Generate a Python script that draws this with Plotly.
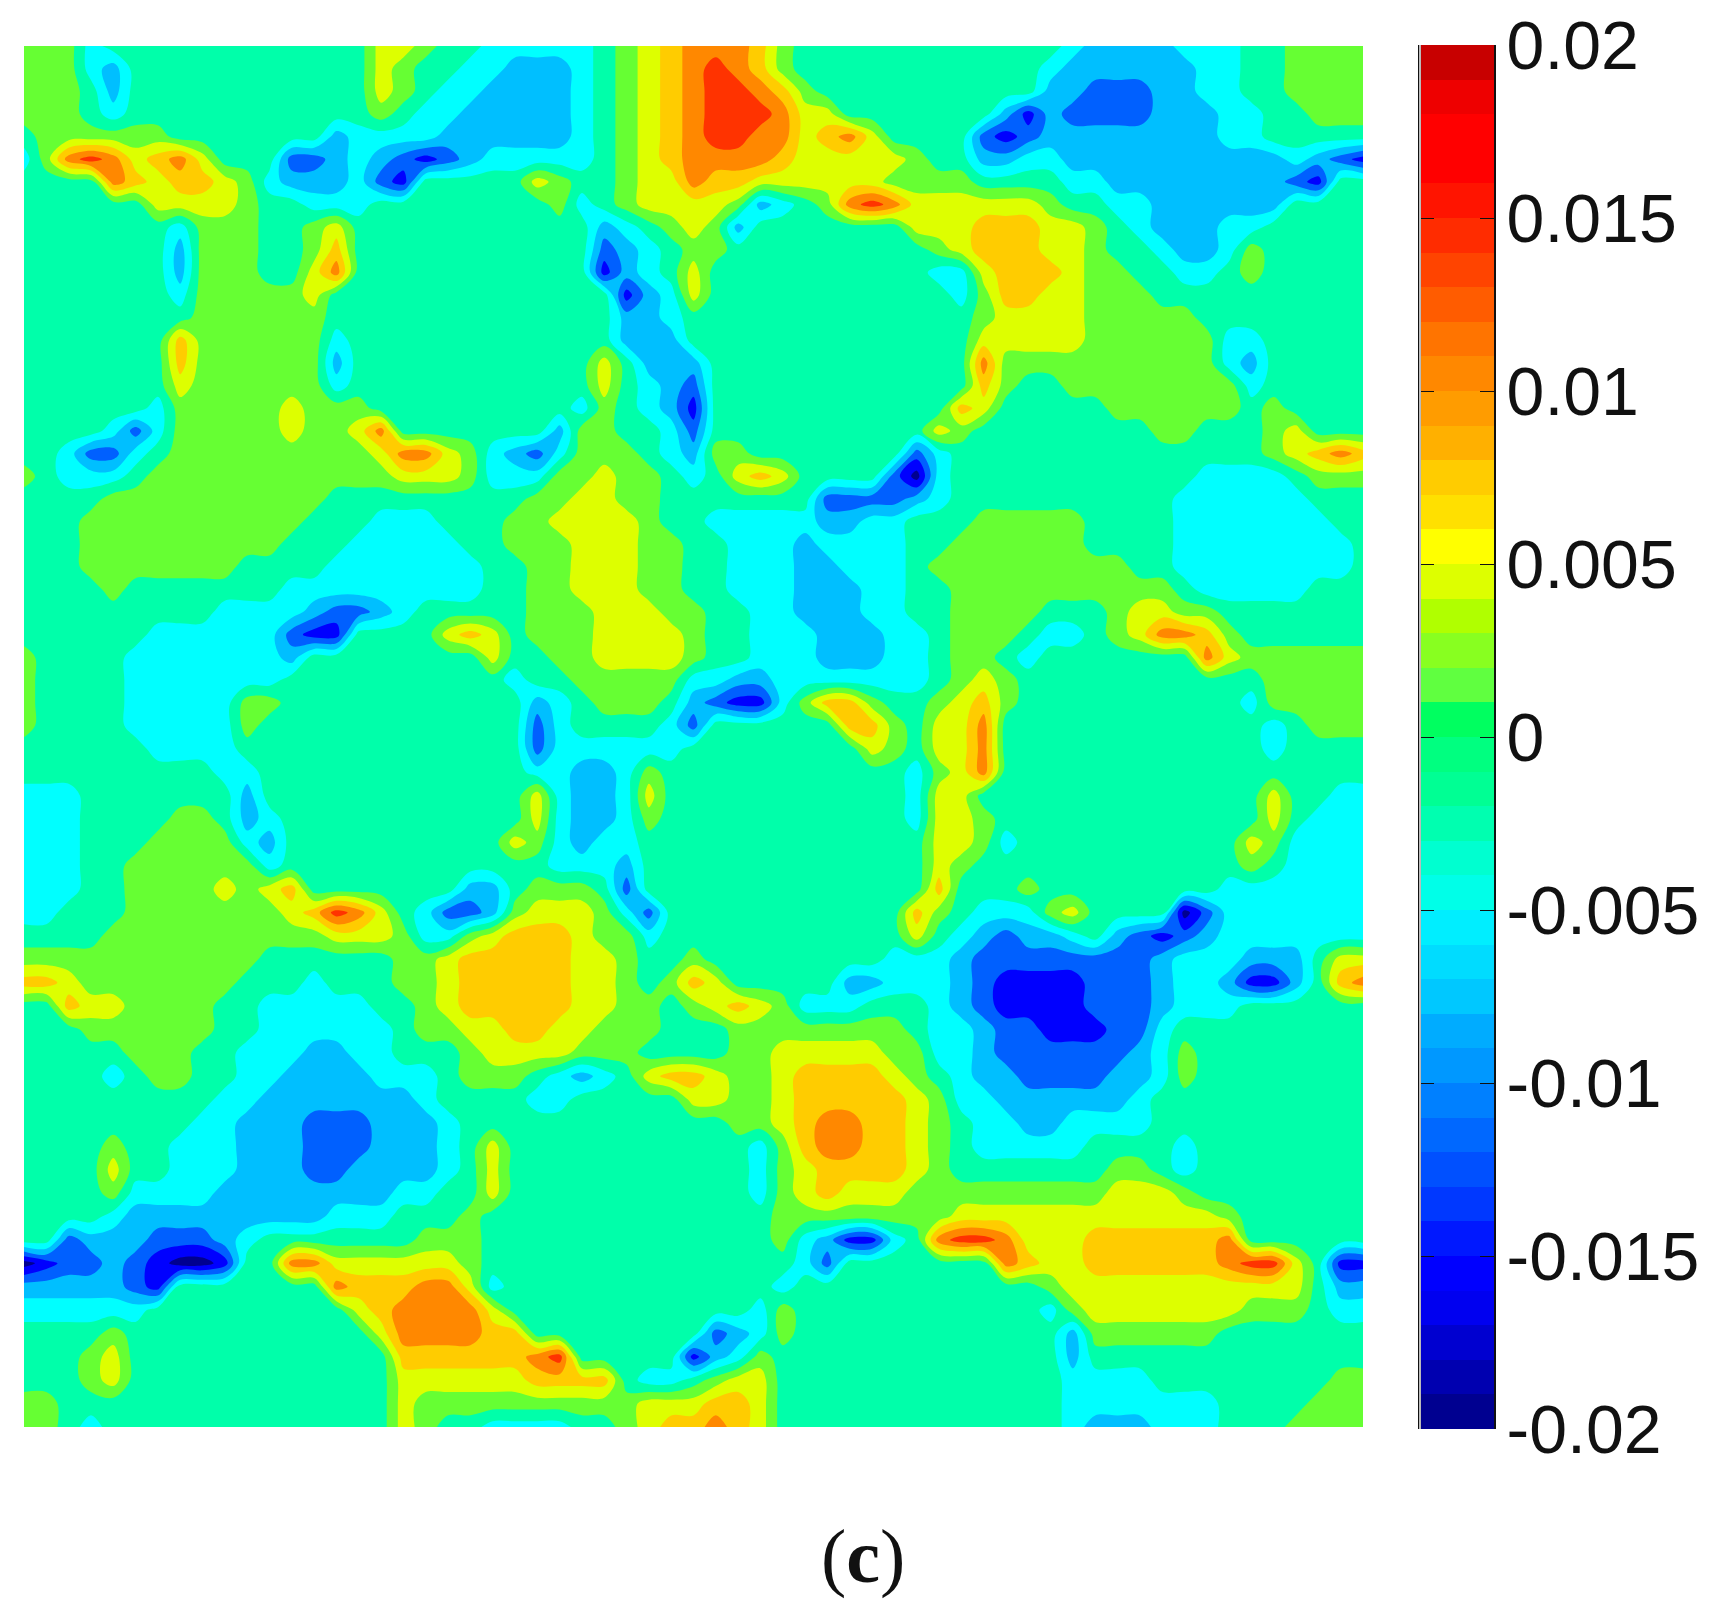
"""
Filled contour map with a separate banded colour bar.
"""

import numpy as np
import plotly.graph_objects as go

# Band centres in units of 1e-3, keyed by the letter used in grid_rows
band_value = {
    "N": -18.3, "B": -15.0, "b": -11.7, "s": -8.3, "c": -5.0, ".": -1.7,
    "g": 1.7, "y": 5.0, "o": 8.3, "O": 11.7, "r": 15.0, "R": 18.3,
}

# Field, one letter per grid point, top row first
grid_rows = [
    "gggc...... ......yyg. .ccccc.gyo OOOog..... .......css ssccc..ggg g",
    "gggcs..... ......yg.. ccsssc.gyo OrOog..... ......csss ssscc..ggg g",
    "ggg.s..... ......yg.c cssssc.gyo OrrOog.... ......ssbb bsscc..ggg g",
    "ggg.c..... ......g.cc sssssc.gyo OrrrOyy... ....sBsbbb bssscc..gg g",
    ".gggggg... ....sccccs sssssc.gyo OrrOOyoOy. ...bBbssss sssscc.... .",
    "cgOrOyoOy. ..bbscsbBb sccccc.gyo OOOOoyyyyy g..ssccsss ssssssscsb B",
    "....Ooyooy gcssscbB.. ...yg..gyy Oooyyyyyyg ggg....ccs sssssssbB. .",
    "......yyyy g..ccc.... ....gc.gyy yygsc.gOrO yyyyyyg..c cssssss... .",
    ".......cgg g..gy..... ......sc.g ygs....... yyyoooyyg. cssscc.... .",
    ".......sgg g..go..... ......bsc. gg........ .gyoooyyg. .csscg.... .",
    ".......sgg g..yO..... ......Bsc. y......... .ccyoooygg ..cc.g.... .",
    ".......cgg gggy...... .......Bsc y......... ..cgooyygg g......... .",
    "........gg gggg...... .......ssc .......... ...gyyyygg ggg....... .",
    ".......ogg ggggc..... .......sss .......... ...yyyyygg ggggcc.... .",
    ".......ogg ggggs..... ......y.ss s......... ...Ogggggg ggggcs.... .",
    ".......ygg ggggc..... ......y.cs b......... ...og..ggg gggggc.... .",
    "......cggg ggyggg.... .....cg.cs B......... ..oy.....g ggggg.g... .",
    "....cbcggg ggyggyO... ....sgg..c b......... .yg....... .gg...gy.. .",
    "..cbbc.ggg ggggggyOOy gcsbcggg.c sgg....... bc........ ......gyoO o",
    "g.ccc.gggg gggggggyyy gcccggygg. c.yoy....b Nc........ ...cccc.gg g",
    "....gggggg gggg...... ...ggyygg. ......bbbb sc........ ..cccccc.. .",
    "...ggggggg ggg...ccc. ..ggyyyyg. .cccccsscc ...ggggg.. ..ccccccc. .",
    "...ggggggg gg...ccccc ..gggyyygg ..cccscccc ..gggggg.. ..cccccccc .",
    "...ggggggg ....cccccc c..ggyyygg ..cccssccc .ggggggggg ..cccccccc .",
    "....g..... ..cccccccc c..ggyyygg ..cccssscc ..gggggggg gg.ccccc.. .",
    ".........c cccsbbsc.. ...gggyyyg g..ccssscc ..gggg...g yygg...... .",
    "......cccc ccbBB....y oy.gggyyyy g..cccsssc c.ggg.cc.g yOOog..... .",
    "g....ccccc ccs....... .y..ggyyyy g..cccsssc c.gg.c.... ...Oyggggg g",
    "g....ccccc cc........ ..c..ggggg ccsscccccc c.gyg..... ......gggg g",
    "g....ccccc gg........ ...sc.ggg. sbBBcgoog. .gyog..... .....cgggg g",
    "g....ccccc g......... ...bc....c b......oog .yyO...... ......c.gg g",
    "......cccc .......... ...bcccccc ........yg .yyO...... ......c... .",
    ".........c c......... ...ccsscg. .......... cgyO...... .......... .",
    "ccc....... s......... ...ycsscy. .......... cyy....... ......y..c c",
    "ccc....gg. sc........ ...ycsscg. .......... cyyg...... ......y.cc c",
    "ccc...gggg cs........ ..ygcscc.. .......... .yygc..... .....ygccc c",
    "ccc..ggggg gc........ ....cccs.. .......... .yg....... .....g.ccc c",
    "ccc..ggggy gyo....... ss.ggg.b.. .......... .o...g.... ....cccccc c",
    "cc...ggggg ggyorOy.cb bsgyyygcb. .......... og.cccgy.. ..Nbcccccc c",
    "....gggggg ggggyyygcc gyoooyggc. .......... y.csbssc.s bBbscccccc c",
    "gggggggggg g......ggy oooooyyg.. g........c ccsbbbbbbb bscccsss.y y",
    "ooyggggggg ...c...ggy oooooyyg.g oy.....ssc ccsbBBBBbb bsccsBBs.o O",
    "..oyygggg. .ccccc..gy oooooyygg. gyoygccc.. .csbBBBBbb bsccc..... .",
    "...gggggg. .cccccc.gg yyooyyggg. ..gggggggg .ccsbbBBBb bc........ .",
    ".....ggg.. cccsscc... gyyyyggg.. ..ggyyyyyg gccsbbbbbb scg....... .",
    "....c.gg.. ccssssccc. ggg.csc.yo oyggyooooy g.cssbbbbs scg....... .",
    ".........c csssssssc. ...cc..... yyggyooooo ygccssssss c......... .",
    "........cc sssbbbsssc .......... ..ggyoOOoo yg.ccssccc c......... .",
    "....g..ccc sssbbbsssc .y........ ...cgoOOoo yg.ccccc.. ..c....... .",
    "....y..ccc sssbbssssc .y........ ...cgyoooo yg.......g g.c....... .",
    "....gccccs ssssssscc. .y........ ...cgyoyyy gggggggggy yyg....... .",
    "....csssss ssssccc... g......... ....gggggg ggyyyyyyyy yyyyg..... .",
    "..bsssbbbs c.......gg g......... ....gcsBBc .OrrOyyyoo ooooO..... .",
    "NBbbsbBNNB ..OOyyyyyy g......... .....cb... ....Ooyyoo ooooOrry.B B",
    "sssssbB... ....OoooOO yc........ ....c..... ......gyyy yyyyyyyy.s s",
    "cccccc.... .....yoOOO Oy........ ...cg..... ......cgyy yyyyyggg.c c",
    "....g..... ......yOOO Ooo....... .bscg..... .......sgg gggg...... .",
    "...gy..... .......ooo oooOr..... Bscg...... .......s.. .......... .",
    "...gy..... .......yyy yyyoooo.cc .gyy...... .......ccc c........g g",
    "gg........ .......ygg ggggggggyy yooy...... .......ccc cccc....gg g",
    "gg.c...... .......yg. .cccc..gyo oOoy...... .......css sccc...ggg g",
]

# Twelve filled levels of the map, lowest first
level_colors = ["#000090", "#0000FF", "#0060FF", "#00BFFF", "#00FFFF", "#00FFAA",
                "#66FF33", "#DDFF00", "#FFCC00", "#FF8800", "#FF3300", "#CC0000"]

# Colour bar bands, top to bottom
bar_colors = ["#C80000", "#EE0000", "#FF0000", "#FF0000", "#FF1400", "#FF2C00", "#FF4400", "#FF5C00",
              "#FF7400", "#FF8800", "#FF9C00", "#FFB000", "#FFCC00", "#FFE000", "#FFFF00", "#DDFF00",
              "#B0FF00", "#88FF20", "#60FF40", "#00FF60", "#00FF80", "#00FF94", "#00FFB0", "#00FFD0",
              "#00FFE8", "#00EEFF", "#00DCFF", "#00C8FF", "#00ACFF", "#0098FF", "#0080FF", "#0068FF",
              "#0050FF", "#0038FF", "#0018FF", "#0000FF", "#0000F0", "#0000D0", "#0000B0", "#000090"]
bar_ticks = [0.02, 0.015, 0.01, 0.005, 0, -0.005, -0.01, -0.015, -0.02]
bar_labels = ["0.02", "0.015", "0.01", "0.005", "0", "-0.005", "-0.01", "-0.015", "-0.02"]

W, H = 1713, 1614


def stepped_scale(colors):
    n = len(colors)
    scale = []
    for i, c in enumerate(colors):
        scale += [[i / n, c], [(i + 1) / n, c]]
    return scale


z = []
for row in grid_rows:
    cells = row.replace(" ", "")[:61].ljust(61, ".")
    z.append([band_value[ch] for ch in cells])

# the upper and lower half of the picture were read on slightly different row spacing
grid_x = np.linspace(0, 1, 61)
grid_y = np.concatenate([np.linspace(0, 0.4755, 30), np.linspace(0.492, 1, 31)])

fig = go.Figure()
fig.add_trace(go.Contour(
    x=grid_x, y=grid_y, z=z,
    colorscale=stepped_scale(level_colors),
    zauto=False, zmin=-20, zmax=20,
    autocontour=False,
    contours=dict(start=-16.667, end=16.667, size=3.3333, coloring="fill", showlines=False),
    line=dict(width=0, smoothing=1.0),
    showscale=False,
    hoverinfo="skip",
))

bar_z = [[(19.5 - i) / 1000] for i in range(40)]
fig.add_trace(go.Heatmap(
    x=[0], y=[v[0] for v in bar_z], z=bar_z,
    xaxis="x2", yaxis="y2",
    colorscale=stepped_scale(bar_colors[::-1]),
    zauto=False, zmin=-0.02, zmax=0.02,
    showscale=False,
    hoverinfo="skip",
))

fig.update_layout(
    width=W, height=H,
    autosize=False,
    paper_bgcolor="white",
    plot_bgcolor="white",
    margin=dict(l=0, r=0, t=0, b=0, autoexpand=False),
    showlegend=False,
    font=dict(family="Liberation Sans, Arial, sans-serif", color="#111111"),
    xaxis=dict(domain=[24 / W, 1363 / W], range=[0, 1], visible=False),
    yaxis=dict(domain=[1 - 1427 / H, 1 - 46 / H], range=[1, 0], visible=False),
    xaxis2=dict(domain=[1420 / W, 1494 / W], anchor="y2", visible=False, range=[-0.5, 0.5]),
    yaxis2=dict(
        domain=[1 - 1429 / H, 1 - 45 / H], anchor="x2", side="right", range=[-0.02, 0.02],
        tickmode="array", tickvals=bar_ticks, ticktext=bar_labels,
        ticks="inside", ticklen=14, tickwidth=1, tickcolor="#111111",
        showline=True, linecolor="#111111", linewidth=2, mirror="ticks",
        showgrid=False, zeroline=False, automargin=False,
        ticklabelstandoff=-3,
        tickfont=dict(size=68, family="Liberation Sans, Arial, sans-serif", color="#111111"),
    ),
    shapes=[dict(type="line", xref="paper", yref="paper",
                 x0=1420 / W, x1=1420 / W, y0=1 - 1429 / H, y1=1 - 45 / H,
                 line=dict(color="#BBBBBB", width=2))],
    annotations=[dict(
        text="(<b>c</b>)", xref="paper", yref="paper", x=863 / W, y=1 - 1556 / H,
        xanchor="center", yanchor="middle", showarrow=False,
        font=dict(family="Liberation Serif, Times New Roman, serif", size=76, color="#111111"),
    )],
)

fig.write_html("out.html", config={"displayModeBar": False},
               post_script="document.body.style.margin='0';")
